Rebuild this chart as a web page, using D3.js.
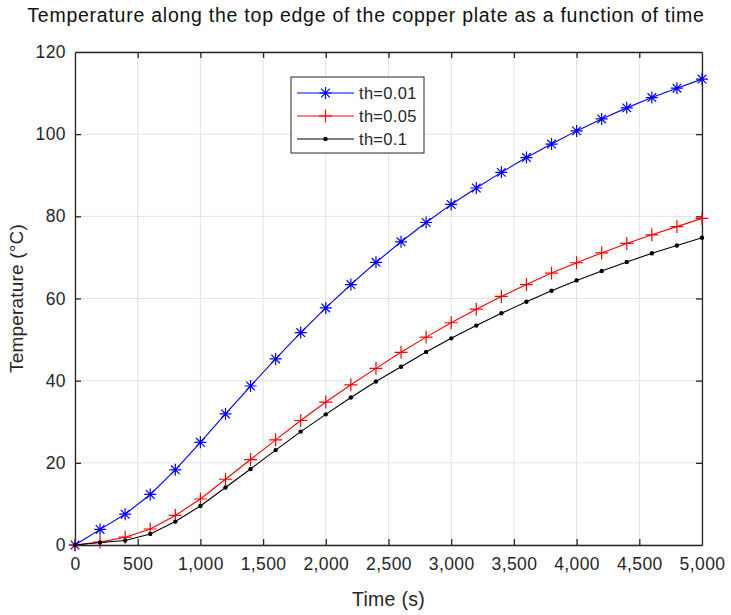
<!DOCTYPE html>
<html>
<head>
<meta charset="utf-8">
<script src="https://cdn.jsdelivr.net/npm/d3@7"></script>
<style>
  body { margin: 0; background: #fff; }
  svg { font-family: "Liberation Sans", Arial, Helvetica, sans-serif; }
</style>
</head>
<body>
<div id="chart"></div>
<script>
// time points (s)
const times = [0, 200, 400, 600, 800, 1000, 1200, 1400, 1600, 1800, 2000, 2200, 2400,
  2600, 2800, 3000, 3200, 3400, 3600, 3800, 4000, 4200, 4400, 4600, 4800, 5000];

// temperature for each thickness
const th001 = [0, 3.8, 7.5, 12.3, 18.3, 25.0, 31.9, 38.7, 45.3, 51.7, 57.7, 63.4, 68.8,
  73.8, 78.5, 82.9, 86.9, 90.7, 94.3, 97.6, 100.8, 103.7, 106.4, 108.9, 111.2, 113.4];
const th005 = [0, 0.7, 1.9, 3.9, 7.2, 11.2, 16.0, 20.8, 25.6, 30.3, 34.8, 39.0, 43.0,
  46.9, 50.6, 54.1, 57.4, 60.5, 63.4, 66.2, 68.7, 71.1, 73.4, 75.5, 77.5, 79.5];
const th01 = [0, 0.6, 1.1, 2.7, 5.7, 9.5, 14.0, 18.5, 23.1, 27.6, 31.8, 35.9, 39.8,
  43.4, 47.0, 50.3, 53.4, 56.4, 59.2, 61.9, 64.4, 66.7, 68.9, 71.0, 72.9, 74.8];

const seriesNames = ["th=0.01", "th=0.05", "th=0.1"];
const xTicks = [0, 500, 1000, 1500, 2000, 2500, 3000, 3500, 4000, 4500, 5000];
const yTicks = [0, 20, 40, 60, 80, 100, 120];

const width = 731, height = 615;
const margin = {left: 75, right: 29, top: 52, bottom: 70};

const svg = d3.select("#chart").append("svg")
  .attr("width", width)
  .attr("height", height);

const xScale = d3.scaleLinear().domain([0, 5000]).range([margin.left, width - margin.right]);
const yScale = d3.scaleLinear().domain([0, 120]).range([height - margin.bottom, margin.top]);

const axisColor = "#262626";

// grid
svg.append("g")
  .selectAll("line.vg")
  .data(xTicks)
  .enter()
  .append("line")
  .attr("x1", d => xScale(d)).attr("x2", d => xScale(d))
  .attr("y1", yScale(0)).attr("y2", yScale(120))
  .attr("stroke", "#e3e3e3").attr("stroke-width", 1);

svg.append("g")
  .selectAll("line.hg")
  .data(yTicks)
  .enter()
  .append("line")
  .attr("y1", d => yScale(d)).attr("y2", d => yScale(d))
  .attr("x1", xScale(0)).attr("x2", xScale(5000))
  .attr("stroke", "#e3e3e3").attr("stroke-width", 1);

// axes (ticks inward, box on)
const fmt = d3.format(",");
const xAxis = svg.append("g")
  .attr("transform", `translate(0, ${yScale(0)})`)
  .call(d3.axisBottom(xScale).tickValues(xTicks).tickFormat(fmt).tickSizeInner(-6).tickSizeOuter(0).tickPadding(13));
const xAxisTop = svg.append("g")
  .attr("transform", `translate(0, ${yScale(120)})`)
  .call(d3.axisTop(xScale).tickValues(xTicks).tickFormat("").tickSizeInner(-6).tickSizeOuter(0));
const yAxis = svg.append("g")
  .attr("transform", `translate(${xScale(0)}, 0)`)
  .call(d3.axisLeft(yScale).tickValues(yTicks).tickSizeInner(-6).tickSizeOuter(0).tickPadding(9));
const yAxisRight = svg.append("g")
  .attr("transform", `translate(${xScale(5000)}, 0)`)
  .call(d3.axisRight(yScale).tickValues(yTicks).tickFormat("").tickSizeInner(-6).tickSizeOuter(0));

[xAxis, xAxisTop, yAxis, yAxisRight].forEach(g => {
  g.select(".domain").attr("stroke", axisColor).attr("stroke-width", 1.3);
  g.selectAll(".tick line").attr("stroke", axisColor).attr("stroke-width", 1.3);
  g.selectAll(".tick text").attr("fill", axisColor)
    .style("font-size", "17.5px").style("letter-spacing", "0.4px");
});
// tick marks at the corners would sit on the box, drop them
xAxis.selectAll(".tick line").filter(d => d === 0 || d === 5000).remove();
xAxisTop.selectAll(".tick line").filter(d => d === 0 || d === 5000).remove();
yAxis.selectAll(".tick line").filter(d => d === 0 || d === 120).remove();
yAxisRight.selectAll(".tick line").filter(d => d === 0 || d === 120).remove();

// series
const series = [
  {name: seriesNames[0], values: th001, color: "#0000ff", marker: "star"},
  {name: seriesNames[1], values: th005, color: "#ff0000", marker: "plus"},
  {name: seriesNames[2], values: th01, color: "#000000", marker: "dot"}
];

const line = d3.line()
  .x((d, i) => xScale(times[i]))
  .y(d => yScale(d));

function drawMarker(g, type, color) {
  if (type === "star") {
    const r = 6;
    g.append("path")
      .attr("d", `M${-r},0H${r}M0,${-r}V${r}M${-r * 0.72},${-r * 0.72}L${r * 0.72},${r * 0.72}M${-r * 0.72},${r * 0.72}L${r * 0.72},${-r * 0.72}`)
      .attr("stroke", color).attr("stroke-width", 1.2).attr("fill", "none");
  } else if (type === "plus") {
    const r = 6.5;
    g.append("path")
      .attr("d", `M${-r},0H${r}M0,${-r}V${r}`)
      .attr("stroke", color).attr("stroke-width", 1.2).attr("fill", "none");
  } else {
    g.append("circle").attr("r", 2.2).attr("fill", color);
  }
}

series.forEach(s => {
  svg.append("path")
    .datum(s.values)
    .attr("d", line)
    .attr("fill", "none")
    .attr("stroke", s.color)
    .attr("stroke-width", 1.1);

  svg.append("g")
    .selectAll("g")
    .data(s.values)
    .enter()
    .append("g")
    .attr("transform", (d, i) => `translate(${xScale(times[i])}, ${yScale(d)})`)
    .each(function () { drawMarker(d3.select(this), s.marker, s.color); });
});

// legend
const legend = svg.append("g").attr("transform", "translate(291, 77)");
legend.append("rect")
  .attr("width", 133).attr("height", 76)
  .attr("fill", "#fff").attr("stroke", axisColor).attr("stroke-width", 1);
series.forEach((s, i) => {
  const ly = 16 + i * 23;
  const row = legend.append("g").attr("transform", `translate(0, ${ly})`);
  row.append("line")
    .attr("x1", 6).attr("x2", 63)
    .attr("stroke", s.color).attr("stroke-width", 1.1);
  drawMarker(row.append("g").attr("transform", "translate(34.5, 0)"), s.marker, s.color);
  row.append("text")
    .attr("x", 68).attr("y", 6)
    .attr("fill", axisColor)
    .style("font-size", "16.5px")
    .style("letter-spacing", "0.3px")
    .text(s.name);
});

// labels
svg.append("text")
  .attr("x", 366).attr("y", 22)
  .attr("text-anchor", "middle")
  .attr("fill", "#111")
  .style("font-size", "19.5px")
  .style("letter-spacing", "0.75px")
  .text("Temperature along the top edge of the copper plate as a function of time");

svg.append("text")
  .attr("x", (xScale(0) + xScale(5000)) / 2).attr("y", 606)
  .attr("text-anchor", "middle")
  .attr("fill", axisColor)
  .style("font-size", "19.5px")
  .style("letter-spacing", "0.3px")
  .text("Time (s)");

svg.append("text")
  .attr("transform", `translate(23, ${(yScale(0) + yScale(120)) / 2}) rotate(-90)`)
  .attr("text-anchor", "middle")
  .attr("fill", axisColor)
  .style("font-size", "19px")
  .style("letter-spacing", "0.2px")
  .text("Temperature (°C)");
</script>
</body>
</html>
